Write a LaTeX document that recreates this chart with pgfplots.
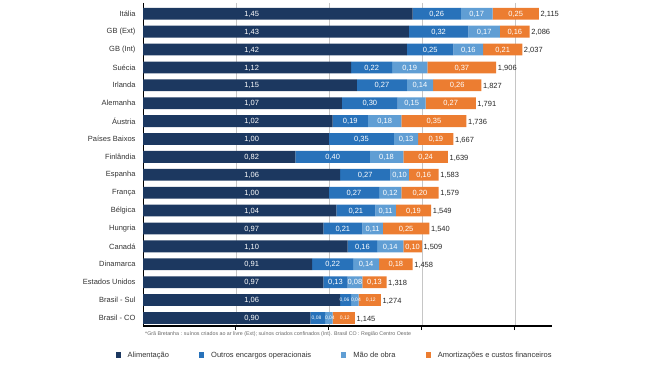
\documentclass[border=0pt]{standalone}
\usepackage{fontspec}
\setmainfont{Liberation Sans}
\usepackage{pgfplots}
\usepackage{pgfplotstable}
\pgfplotsset{compat=1.18}
\pgfplotsset{/pgf/number format/assume math mode=true}
\definecolor{cA}{RGB}{28,56,96}
\definecolor{cB}{RGB}{40,114,186}
\definecolor{cC}{RGB}{96,158,212}
\definecolor{cD}{RGB}{236,125,49}
\pgfplotstableread[col sep=comma]{
y,name,a,b,c,d,t
0,Itália,1.45,0.26,0.17,0.25,2.115
1,GB (Ext),1.43,0.32,0.17,0.16,2.086
2,GB (Int),1.42,0.25,0.16,0.21,2.037
3,Suécia,1.12,0.22,0.19,0.37,1.906
4,Irlanda,1.15,0.27,0.14,0.26,1.827
5,Alemanha,1.07,0.30,0.15,0.27,1.791
6,Áustria,1.02,0.19,0.18,0.35,1.736
7,Países Baixos,1.00,0.35,0.13,0.19,1.667
8,Finlândia,0.82,0.40,0.18,0.24,1.639
9,Espanha,1.06,0.27,0.10,0.16,1.583
10,França,1.00,0.27,0.12,0.20,1.579
11,Bélgica,1.04,0.21,0.11,0.19,1.549
12,Hungria,0.97,0.21,0.11,0.25,1.540
13,Canadá,1.10,0.16,0.14,0.10,1.509
14,Dinamarca,0.91,0.22,0.14,0.18,1.458
15,Estados Unidos,0.97,0.13,0.08,0.13,1.318
16,Brasil - Sul,1.06,0.06,0.04,0.12,1.274
17,Brasil - CO,0.90,0.08,0.04,0.12,1.145
}\data
\pgfplotstablecreatecol[create col/expr={0.585}]{ca}\data
\pgfplotstablecreatecol[create col/expr={\thisrow{a}+0.5*\thisrow{b}}]{cb}\data
\pgfplotstablecreatecol[create col/expr={\thisrow{a}+\thisrow{b}+0.5*\thisrow{c}}]{cc}\data
\pgfplotstablecreatecol[create col/expr={\thisrow{a}+\thisrow{b}+\thisrow{c}+0.5*\thisrow{d}}]{cd}\data
\pgfplotstablecreatecol[create col/expr={\thisrow{a}+\thisrow{b}+\thisrow{c}+\thisrow{d}}]{s}\data
\pgfplotsset{
  base/.style={at={(143pt,40pt)}, anchor=south west, scale only axis,
    width=409pt, height=323pt, xmin=0, xmax=2.2, ymin=-0.6, ymax=17.45, y dir=reverse},
  lab/.style 2 args={draw=none, mark=none, point meta=explicit,
    nodes near coords={\pgfmathprintnumber[fixed,fixed zerofill,precision=2,use comma]{\pgfplotspointmeta}},
    nodes near coords style={anchor=center, text=white, inner sep=0pt, yshift=-0.5pt, xshift=#2, font=\fontsize{#1}{8}\selectfont}},
}
\begin{document}
\begin{tikzpicture}
\useasboundingbox (0,0) rectangle (650pt,366pt);
\begin{axis}[base,
  xbar stacked, bar width=11.8pt,
  ytick={0,...,17}, yticklabels from table={\data}{name},
  ytick style={draw=none},
  yticklabel style={font=\fontsize{7.5}{8}\selectfont, text=black!80},
  xtick={0.5,1,1.5,2}, xticklabels={},
  tick align=outside, major tick length=4pt,
  xtick style={black, line width=1pt},
  xmajorgrids, grid style={gray!45, line width=0.6pt},
  axis x line*=bottom, axis y line*=left,
  x axis line style={black, line width=1.2pt, -},
  y axis line style={black, line width=0.6pt, -},
  legend style={at={(-0.075,-0.09)}, anchor=west, legend columns=4, draw=none, fill=none,
    font=\fontsize{7.5}{9}\selectfont, text=black!80,
    /tikz/every odd column/.append style={column sep=5pt},
    /tikz/every even column/.append style={column sep=28pt}},
  legend image code/.code={\path[#1] (0pt,-2.6pt) rectangle (5.2pt,2.6pt);},
]
\addplot[fill=cA, draw=none] table[x=a, y=y]{\data};
\addplot[fill=cB, draw=none] table[x=b, y=y]{\data};
\addplot[fill=cC, draw=none] table[x=c, y=y]{\data};
\addplot[fill=cD, draw=none] table[x=d, y=y]{\data};
\legend{Alimentação, Outros encargos operacionais, Mão de obra, Amortizações e custos financeiros}
\end{axis}
\begin{axis}[base, hide axis, clip=false]
\addplot[lab={7.5}{0pt}] table[x=ca, y=y, meta=a]{\data};
\addplot[lab={7.5}{0pt}, restrict y to domain=0:15.5] table[x=cb, y=y, meta=b]{\data};
\addplot[lab={7.5}{0pt}, restrict y to domain=0:15.5] table[x=cc, y=y, meta=c]{\data};
\addplot[lab={7.5}{0pt}, restrict y to domain=0:15.5] table[x=cd, y=y, meta=d]{\data};
\addplot[lab={5}{-1.2pt}, restrict y to domain=15.5:17.5] table[x=cb, y=y, meta=b]{\data};
\addplot[lab={5}{1pt}, restrict y to domain=15.5:17.5] table[x=cc, y=y, meta=c]{\data};
\addplot[lab={5}{1pt}, restrict y to domain=15.5:17.5] table[x=cd, y=y, meta=d]{\data};
\addplot[draw=none, mark=none, point meta=explicit,
  nodes near coords={\pgfmathprintnumber[fixed,fixed zerofill,precision=3,use comma]{\pgfplotspointmeta}},
  nodes near coords style={anchor=west, text=black!85, inner sep=1.5pt, yshift=-1pt, font=\fontsize{7.5}{8}\selectfont}]
  table[x=s, y=y, meta=t]{\data};
\end{axis}
\node[anchor=west, inner sep=0pt, font=\fontsize{5.3}{6}\selectfont, text=black!60] at (145pt,32pt)
  {*Grã Bretanha : suínos criados ao ar livre (Ext); suínos criados confinados (Int). Brasil CO : Região Centro Oeste};
\end{tikzpicture}
\end{document}
